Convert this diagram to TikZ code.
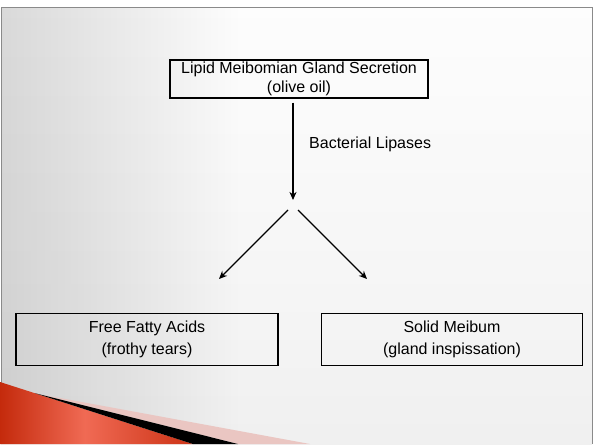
\documentclass[tikz,border=0pt]{standalone}
\usepackage{fontspec}
\setmainfont{Liberation Sans}
\usetikzlibrary{arrows.meta,fadings}
\definecolor{bord}{HTML}{8A8A8A}
\definecolor{bgmid}{HTML}{F6F6F6}
\definecolor{bgbot}{HTML}{E8E8E8}
\definecolor{pinksw}{HTML}{EAC6C2}
\definecolor{rA}{HTML}{9A1400}
\definecolor{rB}{HTML}{C42A0C}
\definecolor{rC}{HTML}{F06A54}
\definecolor{rD}{HTML}{D23C20}
\definecolor{rE}{HTML}{BF2504}
\tikzfading[name=bgfadeleft, left color=transparent!0, right color=transparent!100]
\pgfdeclarehorizontalshading{redsw}{100bp}{color(0bp)=(rA); color(25bp)=(rB); color(47bp)=(rC); color(70bp)=(rD); color(100bp)=(rE)}
\pgfdeclareverticalshading{bgvert}{100bp}{color(0bp)=(bgbot); color(45bp)=(bgmid); color(85bp)=(white); color(100bp)=(white)}
\begin{document}
\begin{tikzpicture}[x=1pt,y=-1pt,
  box/.style={draw=black, line width=1.1pt, align=center, inner sep=0pt,
    font=\fontsize{16}{19.5}\selectfont},
  lbl/.style={font=\fontsize{16}{19.5}\selectfont, inner sep=0pt},
  arr/.style={line width=1.3pt, -{Stealth[length=8pt,width=7pt,inset=2.5pt]}}]
\useasboundingbox (0,0) rectangle (593,444);
% background
\fill[white] (0,0) rectangle (593,444);
\shade[shading=bgvert] (1,8) rectangle (592,444);
\fill[black, opacity=0.14, path fading=bgfadeleft] (1,8) rectangle (240,444);
\draw[bord, line width=1pt] (1,444) -- (1,8) -- (592,8) -- (592,444);
% nodes
\node[box, minimum width=258pt, minimum height=38pt] (top) at (299,79)
  {Lipid Meibomian Gland Secretion\\(olive oil)};
\node[box, minimum width=262pt, minimum height=52pt] (ffa) at (147,339.5)
  {Free Fatty Acids\\[2pt](frothy tears)};
\node[box, minimum width=261pt, minimum height=52pt] (sm) at (452,339.5)
  {Solid Meibum\\[2pt](gland inspissation)};
\node[lbl, anchor=west] (lab) at (309,144) {Bacterial Lipases};
% connectors
\coordinate (v1) at (293,200);
\coordinate (l0) at (288,210);
\coordinate (l1) at (219,279);
\coordinate (r0) at (298,210);
\coordinate (r1) at (367,279);
\draw[arr] ([yshift=-4pt]top.south -| v1) -- (v1);
\draw[arr] (l0) -- (l1);
\draw[arr] (r0) -- (r1);
% swoosh
\fill[pinksw] (41,394.5) -- (310,444) -- (238,444) -- cycle;
\shade[shading=redsw] (0,382) -- (193,444) -- (0,444) -- cycle;
\fill[black] (35,393.2) -- (238,444) -- (193,444) -- cycle;
\end{tikzpicture}
\end{document}
